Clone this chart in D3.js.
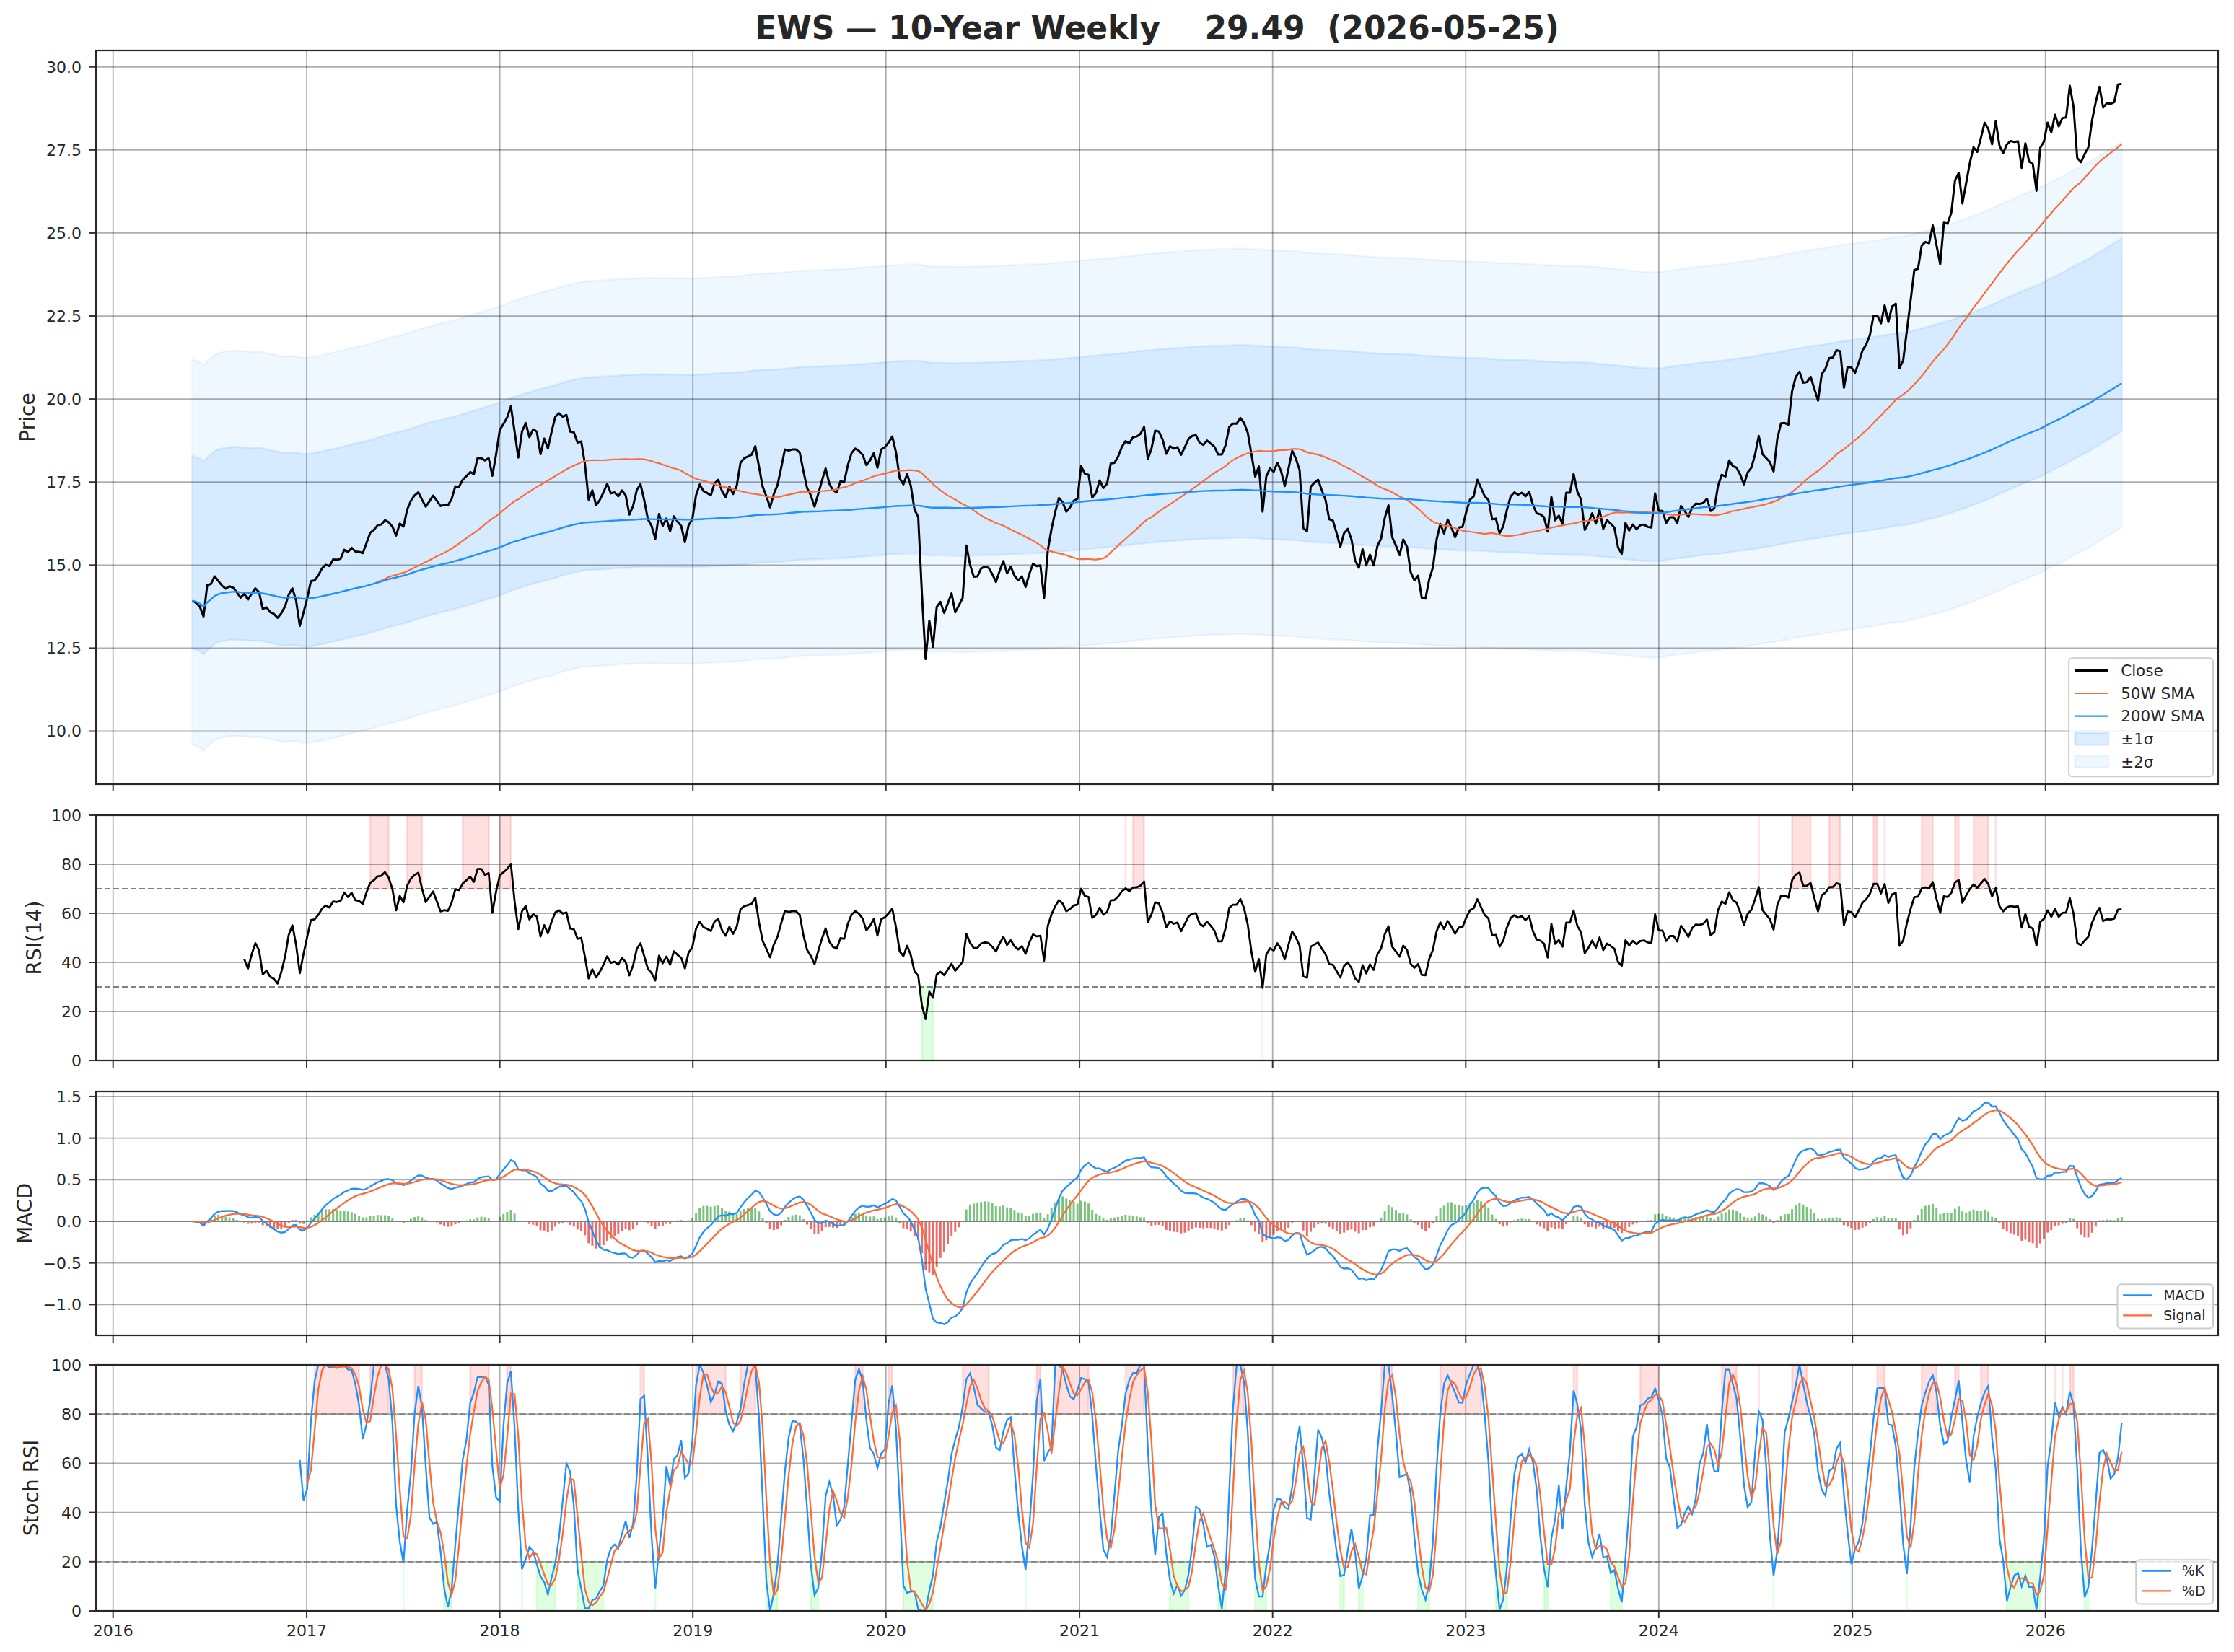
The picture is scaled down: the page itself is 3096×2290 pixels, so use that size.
<!DOCTYPE html>
<html>
<head>
<meta charset="utf-8">
<script src="https://cdn.jsdelivr.net/npm/d3@7"></script>
<style>
  body { margin: 0; background: #fff; }
  svg text { font-family: "DejaVu Sans", sans-serif; fill: #262626; }
</style>
</head>
<body>
<div id="chart"></div>
<script>
// --- data ---
var ticker = "EWS"
var lastDate = "2026-05-25"

// weekly closes, oldest first (one value per week, ending on lastDate)
var weeklyClose = [
  13.93, 13.86, 13.75, 13.45, 14.40, 14.43, 14.66, 14.52, 14.38, 14.29,
  14.36, 14.32, 14.18, 14.02, 14.14, 13.96, 14.14, 14.30, 14.18, 13.68,
  13.73, 13.58, 13.53, 13.41, 13.55, 13.75, 14.11, 14.30, 13.93, 13.17,
  13.57, 14.00, 14.52, 14.54, 14.69, 14.90, 15.01, 14.97, 15.17, 15.16,
  15.19, 15.46, 15.39, 15.52, 15.41, 15.40, 15.36, 15.66, 15.97, 16.06,
  16.20, 16.22, 16.35, 16.29, 16.16, 15.89, 16.25, 16.16, 16.67, 16.94,
  17.10, 17.19, 16.97, 16.76, 16.92, 17.09, 16.94, 16.78, 16.81, 16.80,
  16.99, 17.37, 17.36, 17.57, 17.68, 17.80, 17.74, 18.22, 18.22, 18.15,
  18.22, 17.69, 18.33, 19.07, 19.25, 19.45, 19.78, 19.02, 18.24, 19.02,
  19.28, 18.85, 19.09, 19.02, 18.34, 18.81, 18.51, 19.02, 19.47, 19.57,
  19.47, 19.52, 19.02, 19.00, 18.69, 18.72, 18.04, 16.97,
  17.25, 16.80, 16.96, 17.19, 17.45, 17.16, 17.19, 17.07, 17.25, 17.10,
  16.52, 16.78, 17.26, 17.44, 16.96, 16.38, 16.18, 15.79, 16.54, 16.18,
  16.40, 16.02, 16.47, 16.31, 16.18, 15.69, 16.20, 16.38, 17.10, 17.43,
  17.23, 17.17, 17.10, 17.46, 17.57, 17.23, 17.05, 17.36, 17.14, 17.39,
  18.08, 18.22, 18.27, 18.32, 18.58, 17.96, 17.36, 17.07, 16.74, 17.14,
  17.41, 17.93, 18.48, 18.45, 18.48, 18.48, 18.39, 17.83, 17.32, 17.10,
  16.76, 17.14, 17.54, 17.91, 17.45, 17.25, 17.19, 17.52, 17.50, 18.01,
  18.37, 18.51, 18.44, 18.32, 18.01, 18.15, 18.37, 17.93, 18.48, 18.55,
  18.69, 18.87, 18.40, 17.61, 17.43, 17.74, 17.39, 16.67, 16.45, 14.14,
  12.17, 13.33, 12.54, 13.74, 13.89, 13.56, 13.85, 14.15, 13.58, 13.79,
  14.01, 15.59, 15.01, 14.65, 14.66, 14.90, 14.95, 14.92, 14.73, 14.49,
  14.83, 15.12, 14.75, 14.95, 14.68, 14.54, 14.66, 14.34, 14.73, 15.04,
  14.97, 14.99, 14.01,
  15.44, 16.09, 16.60, 17.02, 16.89, 16.61, 16.74, 16.94, 16.99, 17.98,
  17.75, 17.72, 17.03, 17.17, 17.55, 17.32, 17.45, 18.06, 18.08, 18.27,
  18.56, 18.73, 18.66, 18.85, 18.87, 18.95, 19.16, 18.19, 18.51, 19.05,
  19.02, 18.78, 18.35, 18.58, 18.51, 18.55, 18.32, 18.55, 18.80, 18.89,
  18.91, 18.68, 18.62, 18.75, 18.66, 18.56, 18.33, 18.33, 18.61, 19.16,
  19.26, 19.26, 19.43, 19.28, 18.98, 18.33, 17.67, 17.97, 16.61, 17.67,
  17.91, 17.81, 18.08, 17.83, 17.38, 17.90, 18.44, 18.20, 17.86, 16.11,
  16.02, 17.36, 17.48, 17.57, 17.25, 16.96, 16.38, 16.34, 15.96, 15.55,
  15.96, 16.09, 15.77, 15.14, 14.92, 15.48, 14.99, 15.31, 14.99, 15.57,
  15.80, 16.42, 16.80, 15.84, 15.59, 15.30, 15.77, 15.55, 14.78, 14.54,
  14.68, 14.01, 13.99, 14.57, 14.93, 15.77, 16.24, 15.95, 16.37, 16.13,
  15.84, 16.13, 16.15, 16.60, 16.97,
  17.07, 17.57, 17.32, 17.07, 16.96, 16.38, 16.40, 15.96, 16.17, 16.67,
  17.07, 17.19, 17.12, 17.18, 17.07, 17.21, 16.81, 16.56, 16.53, 16.44,
  16.01, 17.05, 16.35, 16.49, 16.24, 17.18, 17.18, 17.74, 17.21, 16.97,
  16.06, 16.27, 16.56, 16.25, 16.66, 16.09, 16.35, 16.25, 16.13, 15.53,
  15.34, 16.27, 16.04, 16.22, 16.08, 16.20, 16.22, 16.15, 16.13, 17.16,
  16.63, 16.63, 16.27, 16.44, 16.44, 16.27, 16.78, 16.63, 16.45, 16.73,
  16.85, 16.84, 16.87, 17.00, 16.63, 16.71, 17.39, 17.72, 17.67, 18.15,
  17.98, 17.93, 17.72, 17.43, 17.79, 17.93, 18.33, 18.89, 18.34, 18.22,
  18.10, 17.82, 18.80, 19.27, 19.28, 19.23, 20.24, 20.67, 20.82, 20.49,
  20.51, 20.67, 20.31, 19.95, 20.75, 20.91, 21.23, 21.25, 21.47, 21.44,
  20.34, 20.97, 20.95, 20.79, 21.10, 21.46, 21.64, 21.92, 22.51, 22.51,
  22.28, 22.82, 22.32, 22.79, 22.87, 20.93, 21.17, 22.06, 22.96,
  23.88, 23.92, 24.62, 24.73, 24.69, 25.23, 24.63, 24.06, 25.31, 25.28,
  25.61, 26.58, 26.81, 25.89, 26.50, 27.11, 27.58, 27.44, 27.87, 28.32,
  28.13, 27.67, 28.37, 27.63, 27.40, 27.67, 27.77, 27.74, 27.76, 26.96,
  27.70, 27.15, 27.08, 26.27, 27.56, 27.75, 28.32, 28.03, 28.56, 28.21,
  28.46, 28.48, 29.43, 28.80, 27.26, 27.13, 27.37, 27.58, 28.39, 28.94,
  29.40, 28.78, 28.91, 28.89, 28.94, 29.47, 29.49
]

// sigma bands sit at a fixed offset above the 200W SMA, fixed width
var bandOffset = 1.46
var bandSigma = 2.9

var yearTicks = [2016, 2017, 2018, 2019, 2020, 2021, 2022, 2023, 2024, 2025, 2026]
var priceTicks = [10, 12.5, 15, 17.5, 20, 22.5, 25, 27.5, 30]
var rsiTicks = [0, 20, 40, 60, 80, 100]
var macdTicks = [-1, -0.5, 0, 0.5, 1, 1.5]
var stochTicks = [0, 20, 40, 60, 80, 100]
var rsiLevels = [30, 70]
var stochLevels = [20, 80]

var blue = "#1e90ff", orange = "#ff6b35"

// --- layout ---
var width = 3096, height = 2290
var left = 133, right = 3074
var panels = {
  price: {top: 70, bottom: 1087},
  rsi: {top: 1130, bottom: 1470},
  macd: {top: 1513, bottom: 1851},
  stoch: {top: 1892, bottom: 2233}
}

var svg = d3.select("#chart").append("svg")
    .attr("width", width)
    .attr("height", height)
    .style("background", "#fff")

// --- indicators ---
var N = weeklyClose.length
var endDate = d3.timeParse("%Y-%m-%d")(lastDate)
var dates = weeklyClose.map(function(d, i){ return d3.timeWeek.offset(endDate, i - (N - 1)) })

function rollingMean(arr, n, minPeriods) {
  return arr.map(function(d, i){
    var win = arr.slice(Math.max(0, i - n + 1), i + 1).filter(function(v){ return v != null })
    return win.length >= minPeriods ? d3.mean(win) : null
  })
}
function ema(arr, span) {
  var a = 2 / (span + 1), prev = null
  return arr.map(function(v){ prev = prev == null ? v : a * v + (1 - a) * prev; return prev })
}

var sma50 = rollingMean(weeklyClose, 50, 50)
var sma200 = rollingMean(weeklyClose, 200, 1)

var rsi = weeklyClose.map(function(){ return null })
var avgGain = null, avgLoss = null
for (var i = 1; i < N; i++) {
  var ch = weeklyClose[i] - weeklyClose[i - 1]
  var g = Math.max(ch, 0), l = Math.max(-ch, 0)
  if (avgGain == null) { avgGain = g; avgLoss = l }
  else { avgGain = avgGain * 13 / 14 + g / 14; avgLoss = avgLoss * 13 / 14 + l / 14 }
  if (i >= 14) rsi[i] = avgLoss === 0 ? 100 : 100 - 100 / (1 + avgGain / avgLoss)
}

var ema12 = ema(weeklyClose, 12), ema26 = ema(weeklyClose, 26)
var macd = ema12.map(function(v, i){ return v - ema26[i] })
var signal = ema(macd, 9)
var hist = macd.map(function(v, i){ return v - signal[i] })

var stochRaw = rsi.map(function(v, i){
  if (i < 13) return null
  var win = rsi.slice(i - 13, i + 1)
  if (win.some(function(w){ return w == null })) return null
  var lo = d3.min(win), hi = d3.max(win)
  return hi === lo ? 0 : (v - lo) / (hi - lo) * 100
})
var kLine = rollingMean(stochRaw, 3, 3)
var dLine = rollingMean(kLine, 3, 3)

// --- scales ---
var span = dates[N - 1] - dates[0]
var x = d3.scaleTime()
    .domain([new Date(+dates[0] - span * 0.05), new Date(+dates[N - 1] + span * 0.05)])
    .range([left, right])

function padded(lo, hi) { var m = (hi - lo) * 0.05; return [lo - m, hi + m] }

var lo2 = sma200.map(function(s){ return s + bandOffset - 2 * bandSigma })
var hi2 = sma200.map(function(s){ return s + bandOffset + 2 * bandSigma })
var yPrice = d3.scaleLinear()
    .domain(padded(d3.min(weeklyClose.concat(lo2)), d3.max(weeklyClose.concat(hi2))))
    .range([panels.price.bottom, panels.price.top])
var yRsi = d3.scaleLinear().domain([0, 100]).range([panels.rsi.bottom, panels.rsi.top])
var allMacd = macd.concat(signal, hist)
var yMacd = d3.scaleLinear().domain(padded(d3.min(allMacd), d3.max(allMacd)))
    .range([panels.macd.bottom, panels.macd.top])
var yStoch = d3.scaleLinear().domain([0, 100]).range([panels.stoch.bottom, panels.stoch.top])

// clip each panel
Object.keys(panels).forEach(function(k){
  svg.append("clipPath").attr("id", "clip-" + k).append("rect")
      .attr("x", left).attr("y", panels[k].top)
      .attr("width", right - left).attr("height", panels[k].bottom - panels[k].top)
})

function layer(name) { return svg.append("g").attr("clip-path", "url(#clip-" + name + ")") }

function grid(name, y, ticks) {
  var p = panels[name], g = layer(name)
  g.selectAll(".gx").data(yearTicks).enter().append("line")
      .attr("x1", function(d){ return x(new Date(d, 0, 1)) })
      .attr("x2", function(d){ return x(new Date(d, 0, 1)) })
      .attr("y1", p.top).attr("y2", p.bottom)
      .attr("stroke", "#000").attr("stroke-opacity", 0.32).attr("stroke-width", 1.8)
  g.selectAll(".gy").data(ticks).enter().append("line")
      .attr("x1", left).attr("x2", right)
      .attr("y1", function(d){ return y(d) }).attr("y2", function(d){ return y(d) })
      .attr("stroke", "#000").attr("stroke-opacity", 0.32).attr("stroke-width", 1.8)
}

function axes(name, y, ticks, fmt, label, labelX, showYears) {
  var p = panels[name]
  var g = svg.append("g")
  g.selectAll(".ty").data(ticks).enter().append("line")
      .attr("x1", left - 10).attr("x2", left)
      .attr("y1", function(d){ return y(d) }).attr("y2", function(d){ return y(d) })
      .attr("stroke", "#333").attr("stroke-width", 2)
  g.selectAll(".ly").data(ticks).enter().append("text")
      .attr("x", left - 20).attr("y", function(d){ return y(d) })
      .attr("dy", "0.36em").attr("text-anchor", "end")
      .style("font-size", "22px")
      .text(fmt)
  g.selectAll(".tx").data(yearTicks).enter().append("line")
      .attr("x1", function(d){ return x(new Date(d, 0, 1)) })
      .attr("x2", function(d){ return x(new Date(d, 0, 1)) })
      .attr("y1", p.bottom).attr("y2", p.bottom + 10)
      .attr("stroke", "#333").attr("stroke-width", 2)
  if (showYears) {
    g.selectAll(".lx").data(yearTicks).enter().append("text")
        .attr("x", function(d){ return x(new Date(d, 0, 1)) })
        .attr("y", p.bottom + 35)
        .attr("text-anchor", "middle")
        .style("font-size", "22px")
        .text(function(d){ return d })
  }
  g.append("rect")
      .attr("x", left).attr("y", p.top)
      .attr("width", right - left).attr("height", p.bottom - p.top)
      .attr("fill", "none").attr("stroke", "#262626").attr("stroke-width", 2.2)
  g.append("text")
      .attr("transform", "translate(" + labelX + "," + (p.top + p.bottom) / 2 + ") rotate(-90)")
      .attr("dy", "0.36em")
      .attr("text-anchor", "middle")
      .style("font-size", "28px")
      .text(label)
}

function seriesLine(y, values) {
  return d3.line()
      .defined(function(d, i){ return values[i] != null })
      .x(function(d, i){ return x(dates[i]) })
      .y(function(d, i){ return y(values[i]) })
}

function runs(values, test) {
  var out = [], start = -1
  values.forEach(function(v, i){
    var ok = v != null && test(v)
    if (ok && start < 0) start = i
    if (!ok && start >= 0) { out.push([start, i - 1]); start = -1 }
  })
  if (start >= 0) out.push([start, values.length - 1])
  return out
}

function zoneFills(g, y, values, test, from, to, color) {
  g.selectAll(null).data(runs(values, test)).enter().append("path")
      .attr("d", function(r){
        var x0 = x(dates[r[0]]), x1 = x(dates[r[1]])
        return "M" + x0 + "," + y(from) + "L" + x1 + "," + y(from) +
               "L" + x1 + "," + y(to) + "L" + x0 + "," + y(to) + "Z"
      })
      .attr("fill", color).attr("fill-opacity", 0.12)
      .attr("stroke", color).attr("stroke-opacity", 0.12).attr("stroke-width", 2.6)
}

function dashed(name, y, levels) {
  layer(name).selectAll(null).data(levels).enter().append("line")
      .attr("x1", left).attr("x2", right)
      .attr("y1", function(d){ return y(d) }).attr("y2", function(d){ return y(d) })
      .attr("stroke", "#808080").attr("stroke-width", 1.8).attr("stroke-dasharray", "8,4")
}

function legend(name, items, fs) {
  var p = panels[name]
  var g = svg.append("g")
  var rowH = fs * 1.47, handle = fs * 2.15, gap = fs * 0.8, padL = fs * 0.4, padR = fs * 0.55
  var maxW = 0
  var texts = items.map(function(it){
    var t = g.append("text").style("font-size", fs + "px").attr("dy", "0.36em").text(it.label)
    maxW = Math.max(maxW, t.node().getComputedTextLength())
    return t
  })
  var w = padL + handle + gap + maxW + padR
  var h = (items.length - 1) * rowH + fs * 1.75
  var x0 = right - 7 - w, y0 = p.bottom - fs * 0.5 - h
  g.insert("rect", ":first-child")
      .attr("x", x0).attr("y", y0).attr("width", w).attr("height", h).attr("rx", 5)
      .attr("fill", "#fff").attr("fill-opacity", 0.8)
      .attr("stroke", "#cccccc").attr("stroke-width", 2)
  items.forEach(function(it, k){
    var cy = y0 + fs * 0.8 + k * rowH
    texts[k].attr("x", x0 + padL + handle + gap).attr("y", cy)
    if (it.type === "patch") {
      g.append("rect").attr("x", x0 + padL).attr("y", cy - fs * 0.38)
          .attr("width", handle).attr("height", fs * 0.76)
          .attr("fill", it.color).attr("fill-opacity", it.opacity)
          .attr("stroke", it.color).attr("stroke-opacity", it.opacity).attr("stroke-width", 2.6)
    } else {
      g.append("line").attr("x1", x0 + padL).attr("x2", x0 + padL + handle)
          .attr("y1", cy).attr("y2", cy)
          .attr("stroke", it.color).attr("stroke-width", it.width)
    }
  })
}

// --- price panel ---
var pl = layer("price")
;[[2, 0.07], [1, 0.12]].forEach(function(b){
  var k = b[0]
  pl.append("path").datum(dates)
      .attr("d", d3.area()
          .x(function(d, i){ return x(dates[i]) })
          .y0(function(d, i){ return yPrice(sma200[i] + bandOffset - k * bandSigma) })
          .y1(function(d, i){ return yPrice(sma200[i] + bandOffset + k * bandSigma) }))
      .attr("fill", blue).attr("fill-opacity", b[1])
      .attr("stroke", blue).attr("stroke-opacity", b[1]).attr("stroke-width", 2.6)
})
grid("price", yPrice, priceTicks)
var pl2 = layer("price")
pl2.append("path").datum(dates).attr("d", seriesLine(yPrice, weeklyClose))
    .attr("fill", "none").attr("stroke", "#000").attr("stroke-width", 3).attr("stroke-linejoin", "round")
pl2.append("path").datum(dates).attr("d", seriesLine(yPrice, sma50))
    .attr("fill", "none").attr("stroke", orange).attr("stroke-width", 2.2)
pl2.append("path").datum(dates).attr("d", seriesLine(yPrice, sma200))
    .attr("fill", "none").attr("stroke", blue).attr("stroke-width", 2.4)
axes("price", yPrice, priceTicks, function(d){ return d.toFixed(1) }, "Price", 38, false)
legend("price", [
  {label: "Close", color: "#000", width: 3},
  {label: "50W SMA", color: orange, width: 2.2},
  {label: "200W SMA", color: blue, width: 2.4},
  {label: "\u00b11\u03c3", type: "patch", color: blue, opacity: 0.16},
  {label: "\u00b12\u03c3", type: "patch", color: blue, opacity: 0.07}
], 21.5)

// --- RSI panel ---
var rl = layer("rsi")
zoneFills(rl, yRsi, rsi, function(v){ return v > 70 }, 70, 100, "#ff0000")
zoneFills(rl, yRsi, rsi, function(v){ return v < 30 }, 0, 30, "#00ff00")
grid("rsi", yRsi, rsiTicks)
dashed("rsi", yRsi, rsiLevels)
layer("rsi").append("path").datum(dates).attr("d", seriesLine(yRsi, rsi))
    .attr("fill", "none").attr("stroke", "#000").attr("stroke-width", 2.8).attr("stroke-linejoin", "round")
axes("rsi", yRsi, rsiTicks, function(d){ return d }, "RSI(14)", 47, false)

// --- MACD panel ---
var ml = layer("macd")
var barW = x(d3.timeDay.offset(dates[0], 4)) - x(dates[0])
ml.selectAll("rect").data(hist).enter().append("rect")
    .attr("x", function(d, i){ return x(dates[i]) - barW / 2 })
    .attr("width", barW)
    .attr("y", function(d){ return yMacd(Math.max(d, 0)) })
    .attr("height", function(d){ return Math.abs(yMacd(d) - yMacd(0)) })
    .attr("fill", function(d){ return d >= 0 ? "#4caf50" : "#e53935" })
    .attr("fill-opacity", 0.75)
grid("macd", yMacd, macdTicks)
var ml2 = layer("macd")
ml2.append("line").attr("x1", left).attr("x2", right)
    .attr("y1", yMacd(0)).attr("y2", yMacd(0))
    .attr("stroke", "#808080").attr("stroke-width", 1.8)
ml2.append("path").datum(dates).attr("d", seriesLine(yMacd, macd))
    .attr("fill", "none").attr("stroke", blue).attr("stroke-width", 2.3)
ml2.append("path").datum(dates).attr("d", seriesLine(yMacd, signal))
    .attr("fill", "none").attr("stroke", orange).attr("stroke-width", 2.3)
axes("macd", yMacd, macdTicks, function(d){ return d3.format(".1f")(d).replace("-", "\u2212") }, "MACD", 34, false)
legend("macd", [
  {label: "MACD", color: blue, width: 2.3},
  {label: "Signal", color: orange, width: 2.3}
], 19)

// --- Stoch RSI panel ---
var sl = layer("stoch")
zoneFills(sl, yStoch, kLine, function(v){ return v > 80 }, 80, 100, "#ff0000")
zoneFills(sl, yStoch, kLine, function(v){ return v < 20 }, 0, 20, "#00ff00")
grid("stoch", yStoch, stochTicks)
dashed("stoch", yStoch, stochLevels)
var sl2 = layer("stoch")
sl2.append("path").datum(dates).attr("d", seriesLine(yStoch, kLine))
    .attr("fill", "none").attr("stroke", blue).attr("stroke-width", 2.3)
sl2.append("path").datum(dates).attr("d", seriesLine(yStoch, dLine))
    .attr("fill", "none").attr("stroke", orange).attr("stroke-width", 2.3)
axes("stoch", yStoch, stochTicks, function(d){ return d }, "Stoch RSI", 43, true)
legend("stoch", [
  {label: "%K", color: blue, width: 2.3},
  {label: "%D", color: orange, width: 2.3}
], 19)

// --- title ---
svg.append("text")
    .attr("x", (left + right) / 2)
    .attr("y", 54)
    .attr("text-anchor", "middle")
    .style("font-size", "44px")
    .style("font-weight", "bold")
    .style("white-space", "pre")
    .attr("xml:space", "preserve")
    .text(ticker + " \u2014 10-Year Weekly    " + weeklyClose[N - 1].toFixed(2) + "  (" + lastDate + ")")
</script>
</body>
</html>
